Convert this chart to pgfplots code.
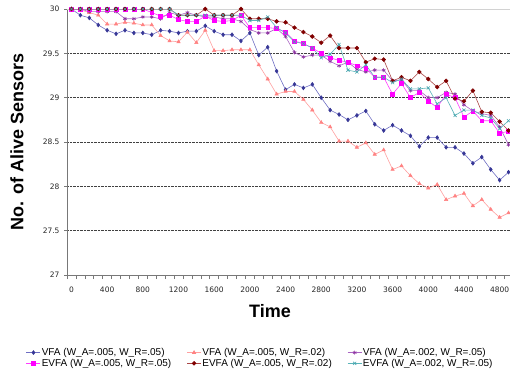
\documentclass[border=0pt]{standalone}
\usepackage{fontspec}
\setmainfont{Liberation Sans}
\newfontfamily\tickfont{DejaVu Sans}
\usepackage{pgfplots}
\usepackage{pgfplotstable}
\pgfplotsset{compat=1.18}
\definecolor{vAm}{RGB}{55,55,150}
\definecolor{vAl}{RGB}{110,110,195}
\definecolor{vBm}{RGB}{255,130,130}
\definecolor{vBl}{RGB}{255,160,160}
\definecolor{vCm}{RGB}{140,50,160}
\definecolor{vCl}{RGB}{170,100,195}
\definecolor{eAm}{RGB}{255,0,255}
\definecolor{eAl}{RGB}{255,60,255}
\definecolor{eBm}{RGB}{128,0,0}
\definecolor{eBl}{RGB}{170,70,70}
\definecolor{eCm}{RGB}{70,165,175}
\definecolor{eCl}{RGB}{90,180,185}
\definecolor{axgray}{RGB}{120,120,120}

\pgfplotstableread{
t v1 v2 v3 e1 e2 e3
0 30 30 30 30 30 30
100 29.93 29.99 30 30 30 30
200 29.90 29.96 29.97 30 30 30
300 29.82 29.93 29.97 30 30 30
400 29.76 29.83 29.97 30 30 30
500 29.72 29.83 29.97 30 30 30
600 29.76 29.85 29.89 30 30 30
700 29.73 29.84 29.89 30 30 30
800 29.73 29.82 29.91 30 30 30
900 29.71 29.82 29.91 29.96 30 30
1000 29.76 29.70 29.89 29.92 30 30
1100 29.75 29.64 29.96 29.93 30 30
1200 29.73 29.63 29.93 29.88 29.93 29.93
1300 29.75 29.74 29.96 29.86 29.93 29.93
1400 29.75 29.62 29.93 29.86 29.93 29.93
1500 29.81 29.76 29.91 29.92 30 29.93
1600 29.75 29.53 29.91 29.87 29.93 29.93
1700 29.71 29.53 29.89 29.86 29.93 29.93
1800 29.71 29.54 29.89 29.87 29.93 29.93
1900 29.64 29.54 29.86 29.93 30 29.93
2000 29.73 29.54 29.77 29.79 29.89 29.87
2100 29.48 29.37 29.73 29.79 29.89 29.87
2200 29.57 29.21 29.73 29.79 29.89 29.91
2300 29.30 29.04 29.78 29.78 29.86 29.79
2400 29.09 29.07 29.69 29.74 29.85 29.73
2500 29.15 29.07 29.51 29.64 29.79 29.63
2600 29.11 28.98 29.46 29.61 29.74 29.61
2700 29.15 28.86 29.48 29.56 29.69 29.56
2800 29.00 28.72 29.48 29.50 29.62 29.45
2900 28.86 28.67 29.41 29.45 29.70 29.49
3000 28.81 28.51 29.36 29.42 29.56 29.60
3100 28.75 28.51 29.40 29.40 29.56 29.31
3200 28.80 28.44 29.32 29.36 29.56 29.29
3300 28.85 28.49 29.29 29.33 29.40 29.37
3400 28.70 28.36 29.31 29.23 29.44 29.23
3500 28.63 28.41 29.31 29.23 29.43 29.23
3600 28.69 28.19 29.19 29.04 29.19 29.17
3700 28.63 28.23 29.20 29.16 29.23 29.21
3800 28.57 28.12 29.08 29.00 29.19 29.10
3900 28.45 28.03 29.08 29.06 29.29 29.10
4000 28.55 27.98 29.00 28.96 29.21 29.11
4100 28.55 28.02 29.00 28.89 29.12 28.93
4200 28.44 27.85 29.06 29.04 29.19 29.00
4300 28.44 27.89 29.04 29.00 28.99 28.80
4400 28.37 27.92 28.92 28.78 28.96 28.86
4500 28.26 27.78 28.85 28.85 29.08 28.86
4600 28.33 27.85 28.82 28.74 28.84 28.80
4700 28.19 27.74 28.80 28.74 28.83 28.77
4800 28.07 27.65 28.67 28.60 28.73 28.65
4900 28.16 27.70 28.47 28.62 28.63 28.74
}\data

\begin{document}
\begin{tikzpicture}
\begin{axis}[
  at={(67pt,93pt)}, anchor=south west,
  scale only axis, width=446pt, height=266pt,
  xmin=-50, xmax=4950, ymin=27, ymax=30,
  axis x line*=bottom, axis y line*=left,
  axis line style={axgray, line width=0.7pt},
  xtick={0,400,...,4800},
  minor xtick={-50,50,...,4950},
  ytick={27.5,28,...,29.5},
  extra y ticks={27,30},
  extra y tick style={grid=none},
  tick align=outside,
  major tick length=3pt, minor tick length=4pt,
  major x tick style={draw=none},
  minor x tick style={axgray, line width=0.6pt},
  y tick style={axgray, line width=0.6pt},
  ymajorgrids,
  grid style={densely dotted, black!75, line width=0.6pt},
  /pgf/number format/assume math mode=true,
  /pgf/number format/set thousands separator={},
  tick label style={font=\tickfont\fontsize{7.5}{9}\selectfont, text=black!85},
  xticklabel style={yshift=-5pt},
  yticklabel style={xshift=-1pt},
  ylabel={No. of Alive Sensors},
  ylabel style={font=\bfseries\fontsize{18}{20}\selectfont, at={(axis description cs:-0.112,0.5)}, anchor=center},
  xlabel={Time},
  xlabel style={font=\bfseries\fontsize{18}{20}\selectfont, at={(axis description cs:0.455,-0.135)}, anchor=center},
  legend columns=3,
  legend style={draw=none, fill=none, at={(axis description cs:-0.092,-0.2707)}, anchor=north west,
    font=\fontsize{10}{11}\selectfont, inner sep=0pt, row sep=0pt,
    nodes={inner ysep=1pt, inner xsep=1pt}},
  legend image code/.code={\draw[mark repeat=2,mark phase=2] plot coordinates {(0pt,0pt) (7pt,0pt) (14pt,0pt)};},
  every axis plot/.append style={line width=0.6pt},
]
\draw[gray!35, line width=1.4pt] (rel axis cs:0,1) -- (rel axis cs:1,1);
\addplot[color=vAl, mark=diamond*, mark size=1.9pt, mark options={fill=vAm, draw=vAm}] table[x=t, y=v1] {\data};
\addlegendentry{\makebox[144pt][l]{VFA (W\_A=.005, W\_R=.05)}}
\addplot[color=vBl, mark=triangle*, mark size=1.9pt, mark options={fill=vBm, draw=vBm}] table[x=t, y=v2] {\data};
\addlegendentry{\makebox[144pt][l]{VFA (W\_A=.005, W\_R=.02)}}
\addplot[color=vCl, mark=asterisk, mark size=2pt, mark options={draw=vCm}] table[x=t, y=v3] {\data};
\addlegendentry{\makebox[144pt][l]{VFA (W\_A=.002, W\_R=.05)}}
\addplot[color=eAl, mark=square*, mark size=1.9pt, mark options={fill=eAm, draw=eAm}] table[x=t, y=e1] {\data};
\addlegendentry{\makebox[144pt][l]{EVFA (W\_A=.005, W\_R=.05)}}
\addplot[color=eBl, mark=*, mark size=1.9pt, mark options={fill=eBm, draw=eBm}] table[x=t, y=e2] {\data};
\addlegendentry{\makebox[144pt][l]{EVFA (W\_A=.005, W\_R=.02)}}
\addplot[color=eCl, mark=x, mark size=2.2pt, mark options={draw=eCm}] table[x=t, y=e3] {\data};
\addlegendentry{\makebox[144pt][l]{EVFA (W\_A=.002, W\_R=.05)}}
\end{axis}
\pgfresetboundingbox
\path[use as bounding box] (0,0) rectangle (510pt,368pt);
\end{tikzpicture}
\end{document}
